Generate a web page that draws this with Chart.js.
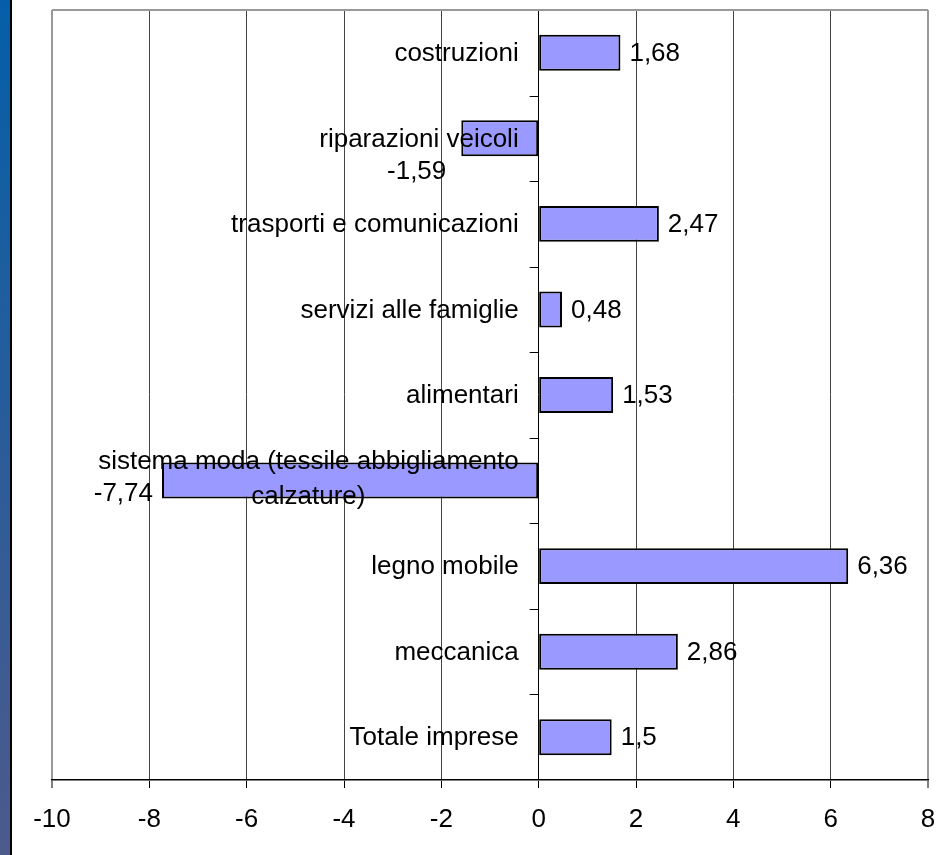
<!DOCTYPE html>
<html>
<head>
<meta charset="utf-8">
<script src="https://cdn.jsdelivr.net/npm/chart.js@4/dist/chart.umd.min.js"></script>
<style>
  html, body { margin: 0; padding: 0; background: #fff; }
  #wrap { position: relative; width: 945px; height: 855px; }
  #strip {
    position: absolute; left: 0; top: 0; width: 10px; height: 855px;
    background: linear-gradient(#055fa8, #4d5a8c);
    border-right: 2px solid #000;
  }
</style>
</head>
<body>
<div id="wrap">
  <canvas id="c" width="945" height="855"></canvas>
  <div id="strip"></div>
</div>
<script>
'use strict';

/* ── Data ───────────────────────────────────────────────── */
const categories = [
  'costruzioni',
  'riparazioni veicoli',
  'trasporti e comunicazioni',
  'servizi alle famiglie',
  'alimentari',
  ['sistema moda (tessile abbigliamento', 'calzature)'],
  'legno mobile',
  'meccanica',
  'Totale imprese'
];
const values = [1.68, -1.59, 2.47, 0.48, 1.53, -7.74, 6.36, 2.86, 1.5];
const xTicks = [-10, -8, -6, -4, -2, 0, 2, 4, 6, 8];

const FAMILY = '"Liberation Sans", Arial, sans-serif';
const FONT = '26px ' + FAMILY;
const fmt = v => String(v).replace('.', ',');

/* ── Labels / axis decorations (Excel style) ────────────── */
const excelLabels = {
  id: 'excelLabels',
  beforeDatasetsDraw(chart) {
    const { ctx, chartArea: a } = chart;
    ctx.save();
    ctx.strokeStyle = '#999';
    ctx.lineWidth = 2;
    ctx.beginPath();
    ctx.moveTo(a.left, a.top);
    ctx.lineTo(a.right, a.top);
    ctx.stroke();
    ctx.restore();
  },
  afterDatasetsDraw(chart) {
    const { ctx } = chart;
    const xs = chart.scales.x, ys = chart.scales.y;
    const x0 = xs.getPixelForValue(0);
    ctx.save();

    // small ticks between categories on the zero axis
    ctx.strokeStyle = '#000';
    ctx.lineWidth = 1;
    for (let i = 0; i < categories.length - 1; i++) {
      const y = Math.round((ys.getPixelForValue(i) + ys.getPixelForValue(i + 1)) / 2) + 0.5;
      ctx.beginPath();
      ctx.moveTo(x0 - 9, y);
      ctx.lineTo(x0, y);
      ctx.stroke();
    }

    ctx.font = FONT;
    ctx.fillStyle = '#000';
    ctx.textBaseline = 'middle';

    // category labels, right edge next to the zero axis
    categories.forEach((c, i) => {
      const y = ys.getPixelForValue(i);
      const right = x0 - 20;
      if (Array.isArray(c)) {
        const w = Math.max(...c.map(s => ctx.measureText(s).width));
        ctx.textAlign = 'center';
        const lh = 35;
        c.forEach((s, k) => ctx.fillText(s, right - w / 2, y - 1.5 + (k - (c.length - 1) / 2) * lh));
      } else {
        ctx.textAlign = 'right';
        ctx.fillText(c, right, y + 1);
      }
    });

    // value labels
    const negDy = { 1: 33, 5: 13 };
    const negGap = { 1: 15, 5: 9 };
    values.forEach((v, i) => {
      const xe = xs.getPixelForValue(v);
      const y = ys.getPixelForValue(i);
      if (v >= 0) {
        ctx.textAlign = 'left';
        ctx.fillText(fmt(v), xe + 9, y + 1);
      } else {
        ctx.textAlign = 'right';
        ctx.fillText(fmt(v), xe - (negGap[i] || 9), y + (negDy[i] || 0));
      }
    });
    ctx.restore();
  }
};

/* ── Chart ──────────────────────────────────────────────── */
new Chart(document.getElementById('c'), {
  type: 'bar',
  data: {
    labels: categories,
    datasets: [
      {
        data: values,
        backgroundColor: '#9999ff',
        borderColor: '#000',
        borderWidth: 2,
        borderSkipped: false,
        barPercentage: 0.42,
        categoryPercentage: 1
      }
    ]
  },
  options: {
    indexAxis: 'y',
    responsive: false,
    animation: false,
    layout: { padding: { left: 52, right: 17, top: 10, bottom: 0 } },
    plugins: { legend: { display: false }, tooltip: { enabled: false } },
    scales: {
      x: {
        min: xTicks[0],
        max: xTicks[xTicks.length - 1],
        afterBuildTicks: s => { s.ticks = xTicks.map(v => ({ value: v })); },
        afterFit: s => { s.height = 75; s.paddingLeft = 0; s.paddingRight = 0; },
        ticks: {
          font: { family: FAMILY, size: 26 },
          color: '#000',
          padding: 16,
          maxRotation: 0,
          autoSkip: false
        },
        grid: {
          color: c => (c.tick && (c.tick.value === xTicks[0] || c.tick.value === xTicks[xTicks.length - 1]) ? '#999' :
            c.tick && c.tick.value === 0 ? '#000' : '#444'),
          lineWidth: c => (c.tick && (c.tick.value === xTicks[0] || c.tick.value === xTicks[xTicks.length - 1]) ? 2 : 1),
          tickColor: '#000',
          tickLength: 8,
          tickWidth: 1
        },
        border: { color: '#000', width: 1.5 }
      },
      y: {
        display: false,
        grid: { display: false }
      }
    }
  },
  plugins: [excelLabels]
});
</script>
</body>
</html>
